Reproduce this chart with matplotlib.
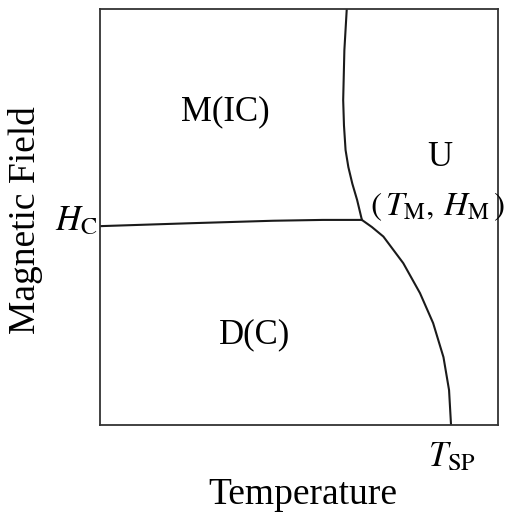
import numpy as np
from matplotlib import pyplot as plt

plt.rcParams['font.family'] = ['Liberation Serif', 'DejaVu Serif']
plt.rcParams['mathtext.fontset'] = 'stix'

# phase boundaries (axes units, 0..1)
border_x = [0.0, 0.226, 0.435, 0.560, 0.658]
border_y = [0.478, 0.485, 0.491, 0.493, 0.493]
upper_x = [0.620, 0.614, 0.611, 0.613, 0.617, 0.624, 0.634, 0.646, 0.658]
upper_y = [1.0, 0.901, 0.781, 0.720, 0.661, 0.620, 0.580, 0.541, 0.493]
lower_x = [0.658, 0.683, 0.712, 0.762, 0.804, 0.837, 0.863, 0.877, 0.882]
lower_y = [0.493, 0.476, 0.453, 0.389, 0.317, 0.245, 0.163, 0.084, 0.0]

W, H = 513, 516


def px(x, y):
    # pixel position -> figure fraction
    return x / W, 1 - y / H


fig = plt.figure(figsize=(W / 100, H / 100), dpi=100)
ax = fig.add_axes([100 / W, (H - 425) / H, 398 / W, 416 / H])
ax.set_xlim(0, 1)
ax.set_ylim(0, 1)
ax.set_xticks([])
ax.set_yticks([])
for s in ax.spines.values():
    s.set_linewidth(1.3)
    s.set_color('#333333')

lw = 1.5
for xs, ys in [(border_x, border_y), (upper_x, upper_y), (lower_x, lower_y)]:
    ax.plot(xs, ys, color='#1a1a1a', lw=lw, solid_joinstyle='round')

fs = 25
ax.text(0.314, 0.752, 'M(IC)', fontsize=fs, ha='center', va='center')
ax.text(0.854, 0.644, 'U', fontsize=fs, ha='center', va='center')
ax.text(0.848, 0.524, r'$(\,T_{\mathrm{M}},\,H_{\mathrm{M}}\,)$', fontsize=fs - 1, ha='center', va='center')
ax.text(0.389, 0.216, 'D(C)', fontsize=fs, ha='center', va='center')

fig.text(*px(76, 222), r'$H_{\mathrm{C}}$', fontsize=fs, ha='center', va='center')
fig.text(*px(452, 458), r'$T_{\mathrm{SP}}$', fontsize=fs, ha='center', va='center')
fig.text(*px(303, 495), 'Temperature', fontsize=fs + 2, ha='center', va='center')
fig.text(*px(26, 220), 'Magnetic Field', fontsize=fs + 2, ha='center', va='center', rotation=90)

fig.savefig('out.png', dpi=100)
